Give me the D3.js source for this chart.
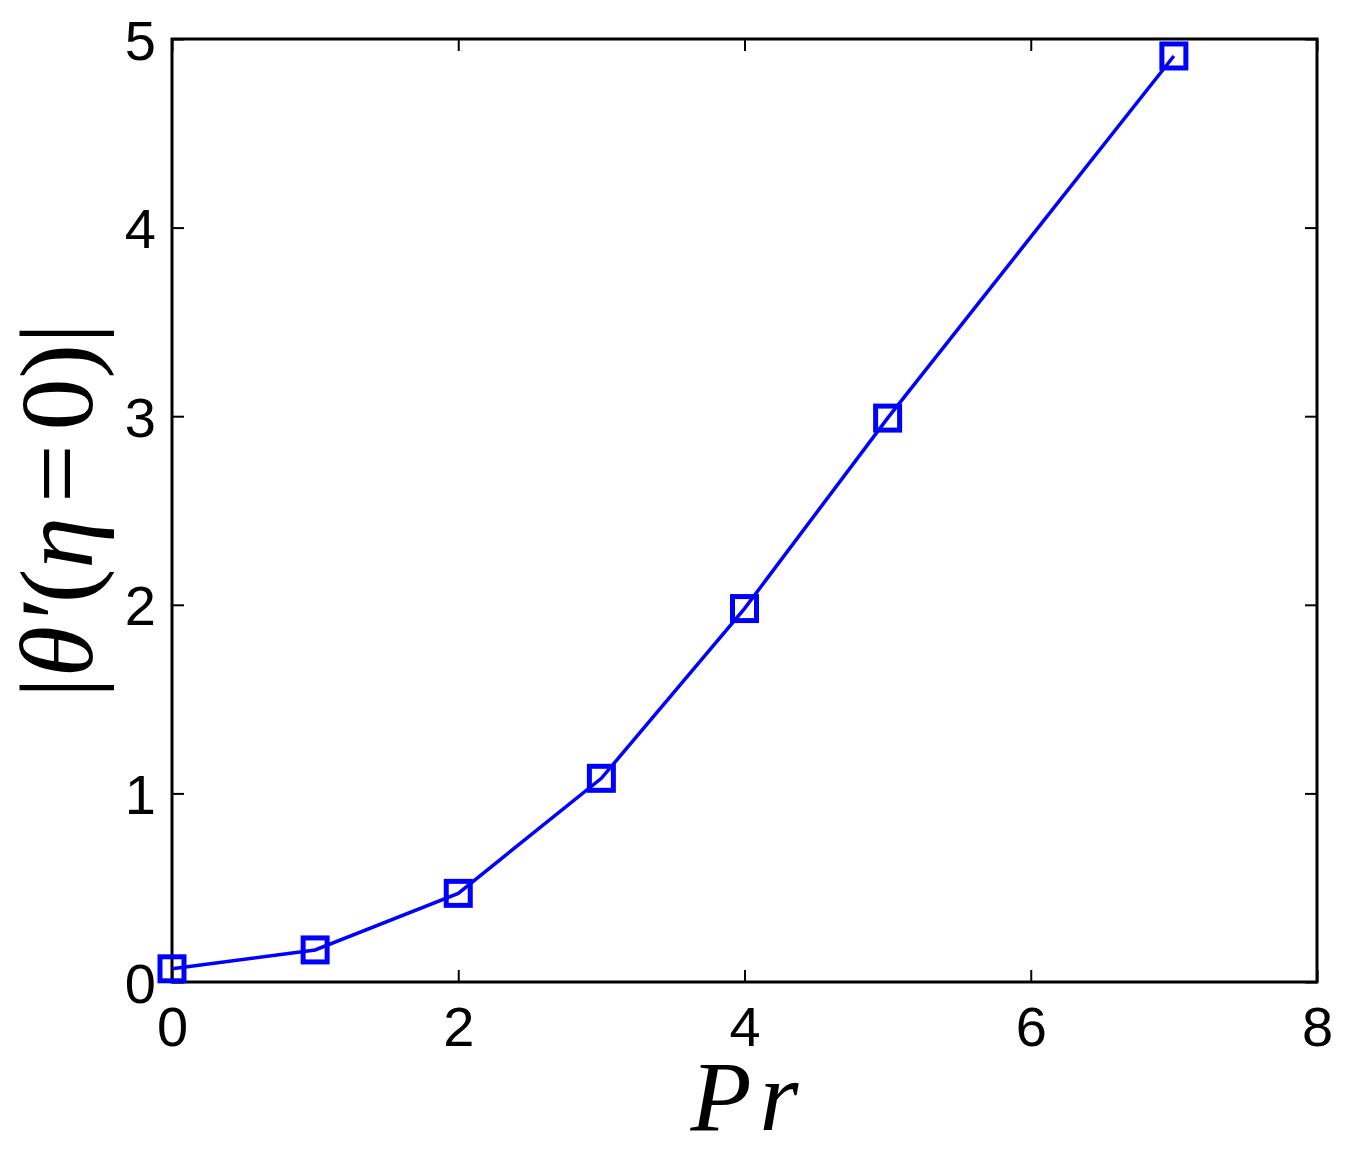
<!DOCTYPE html>
<html>
<head>
<meta charset="utf-8">
<script src="https://cdn.jsdelivr.net/npm/d3@7"></script>
<style>
  body { margin: 0; background: #fff; }
  svg { display: block; }
</style>
</head>
<body>
<div id="chart"></div>
<script>
// data
const prValues = [0, 1, 2, 3, 4, 5, 7];
const thetaValues = [0.07, 0.17, 0.47, 1.08, 1.98, 2.99, 4.91];
const xTicks = [0, 2, 4, 6, 8];
const yTicks = [0, 1, 2, 3, 4, 5];

const width = 1348, height = 1153;
const margin = { top: 39, right: 31, bottom: 171, left: 172 };

const svg = d3.select("#chart").append("svg")
  .attr("width", width)
  .attr("height", height);

const x = d3.scaleLinear().domain([0, 8]).range([margin.left, width - margin.right]);
const y = d3.scaleLinear().domain([0, 5]).range([height - margin.bottom, margin.top]);

const tickFont = "'Liberation Sans', Arial, sans-serif";
const fmt = d3.format("d");

// ticks (inward, mirrored on top/right)
const tickLen = 12;
const bottomAxis = d3.axisBottom(x).tickValues(xTicks).tickFormat(fmt).tickSizeInner(-tickLen).tickSizeOuter(0).tickPadding(24);
const leftAxis = d3.axisLeft(y).tickValues(yTicks).tickFormat(fmt).tickSizeInner(-tickLen).tickSizeOuter(0).tickPadding(16);
const topAxis = d3.axisTop(x).tickValues(xTicks).tickSizeInner(-tickLen).tickSizeOuter(0).tickFormat("");
const rightAxis = d3.axisRight(y).tickValues(yTicks).tickSizeInner(-tickLen).tickSizeOuter(0).tickFormat("");

const gb = svg.append("g").attr("transform", `translate(0,${y(0)})`).call(bottomAxis);
const gl = svg.append("g").attr("transform", `translate(${x(0)},0)`).call(leftAxis);
const gt = svg.append("g").attr("transform", `translate(0,${y(5)})`).call(topAxis);
const gr = svg.append("g").attr("transform", `translate(${x(8)},0)`).call(rightAxis);

[gb, gl, gt, gr].forEach(g => {
  g.select(".domain").remove();
  g.selectAll(".tick line").attr("stroke", "#000").attr("stroke-width", 2);
  g.selectAll(".tick text")
    .attr("fill", "#000")
    .attr("font-family", tickFont)
    .attr("font-size", 56);
});
gl.selectAll(".tick text").attr("dy", "0.36em");

// frame
svg.append("rect")
  .attr("x", x(0))
  .attr("y", y(5))
  .attr("width", x(8) - x(0))
  .attr("height", y(0) - y(5))
  .attr("fill", "none")
  .attr("stroke", "#000")
  .attr("stroke-width", 3);

// data line
const pts = prValues.map((p, i) => ({ pr: p, v: thetaValues[i] }));
svg.append("path")
  .datum(pts)
  .attr("fill", "none")
  .attr("stroke", "#0000ff")
  .attr("stroke-width", 3.5)
  .attr("d", d3.line().x(d => x(d.pr)).y(d => y(d.v)));

const ms = 24;
svg.append("g").selectAll("rect")
  .data(pts)
  .join("rect")
  .attr("x", d => x(d.pr) - ms / 2)
  .attr("y", d => y(d.v) - ms / 2)
  .attr("width", ms)
  .attr("height", ms)
  .attr("fill", "none")
  .attr("stroke", "#0000ff")
  .attr("stroke-width", 5);

// axis labels
const serif = "'Liberation Serif', 'DejaVu Serif', 'Times New Roman', serif";
const xl = svg.append("text")
  .attr("x", (x(0) + x(8)) / 2)
  .attr("y", 1130)
  .attr("text-anchor", "middle")
  .attr("font-family", serif)
  .attr("font-size", 100)
  .attr("fill", "#000");
xl.append("tspan").attr("font-style", "italic").text("P");
xl.append("tspan").attr("font-style", "italic").attr("dx", 8).text("r");

const yl = svg.append("text")
  .attr("transform", `translate(92,${(y(0) + y(5)) / 2}) rotate(-90)`)
  .attr("text-anchor", "middle")
  .attr("font-family", serif)
  .attr("font-size", 104)
  .attr("fill", "#000");
yl.append("tspan").text("|");
yl.append("tspan").attr("font-style", "italic").text("θ′");
yl.append("tspan").text("(");
yl.append("tspan").attr("font-style", "italic").text("η");
yl.append("tspan").attr("dx", 14).text("=");
yl.append("tspan").attr("dx", 14).text("0)|");
</script>
</body>
</html>
